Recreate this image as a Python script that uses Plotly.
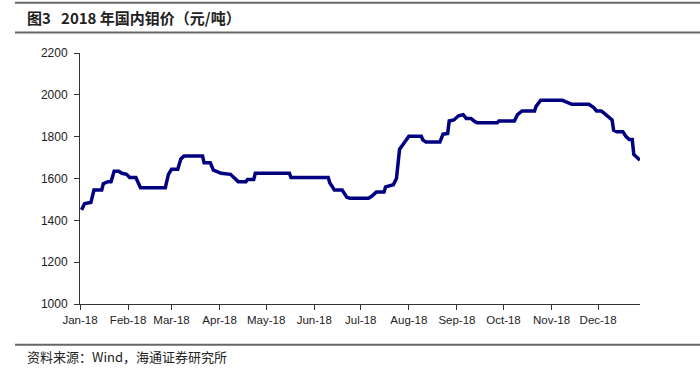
import plotly.graph_objects as go
from datetime import date, timedelta

# ---- data ----
day_of_year = [1, 3, 7, 9, 14, 15, 18, 20, 22, 25, 27, 30, 32, 36, 39, 55, 57, 59, 63, 65,
               67, 79, 80, 84, 86, 91, 97, 102, 107, 108, 112, 113, 135, 136, 160, 161, 164,
               169, 172, 174, 186, 188, 191, 196, 197, 199, 202, 204, 206, 208, 210, 212,
               220, 221, 223, 232, 234, 237, 238, 241, 244, 247, 249, 252, 254, 256, 269,
               270, 280, 282, 285, 293, 294, 297, 311, 314, 317, 328, 331, 333, 336, 338,
               341, 343, 344, 346, 350, 352, 354, 356, 357, 359, 361]
price = [1450, 1480, 1485, 1545, 1545, 1575, 1585, 1585, 1635, 1635, 1625, 1620, 1605, 1605,
         1556, 1556, 1620, 1644, 1644, 1693, 1707, 1707, 1675, 1675, 1640, 1625, 1620, 1585,
         1585, 1595, 1595, 1625, 1625, 1605, 1605, 1580, 1545, 1545, 1510, 1506, 1506, 1515,
         1535, 1535, 1560, 1565, 1570, 1600, 1740, 1760, 1780, 1802, 1802, 1785, 1774, 1774,
         1812, 1815, 1875, 1880, 1900, 1905, 1887, 1887, 1875, 1866, 1866, 1875, 1875, 1905,
         1923, 1923, 1945, 1974, 1974, 1965, 1955, 1955, 1940, 1923, 1923, 1911, 1894, 1880,
         1831, 1823, 1823, 1800, 1787, 1787, 1715, 1700, 1688]
month_ticks = ["2018-%02d-01" % m for m in range(1, 13)]
month_labels = ["Jan-18", "Feb-18", "Mar-18", "Apr-18", "May-18", "Jun-18",
                "Jul-18", "Aug-18", "Sep-18", "Oct-18", "Nov-18", "Dec-18"]
y_ticks = [1000, 1200, 1400, 1600, 1800, 2000, 2200]

title_text = "图3\u00a0\u00a0 2018 年国内钼价（元/吨）"
source_text = "资料来源：Wind，海通证券研究所"

dates = [(date(2018, 1, 1) + timedelta(days=d)).isoformat() for d in day_of_year]

# ---- layout geometry (pixels) ----
W, H = 700, 374
L, R, T, B = 80, 640, 52.5, 304.5


def px_x(px):
    return (px - L) / (R - L)


def px_y(py):
    return (B - py) / (B - T)


fig = go.Figure()
fig.add_trace(go.Scatter(x=dates, y=price, mode="lines",
                         line=dict(color="#000080", width=3.5), hoverinfo="x+y"))

x_font = dict(family="Liberation Sans, Arial, sans-serif", size=11.5, color="#222")
y_font = dict(family="Liberation Sans, Arial, sans-serif", size=12, color="#222")
fig.update_layout(
    width=W, height=H,
    margin=dict(l=L, r=W - R, t=T, b=H - B),
    paper_bgcolor="white", plot_bgcolor="white",
    showlegend=False,
    xaxis=dict(type="date", range=["2018-01-01", dates[-1]],
               tickvals=month_ticks, ticktext=month_labels,
               showgrid=False, zeroline=False,
               showline=True, linecolor="#333", linewidth=1,
               ticks="outside", ticklen=5, tickcolor="#333",
               tickfont=x_font, tickangle=0, automargin=False),
    yaxis=dict(range=[1000, 2200], tickvals=y_ticks,
               showgrid=False, zeroline=False,
               showline=True, linecolor="#333", linewidth=1,
               ticks="outside", ticklen=5, tickcolor="#333",
               tickfont=y_font, ticklabelstandoff=4, automargin=False),
)

line_col = "#666"
for py in (2, 32, 345.5):
    fig.add_shape(type="line", xref="paper", yref="paper",
                  x0=px_x(15), x1=px_x(700), y0=px_y(py), y1=px_y(py),
                  line=dict(color=line_col, width=2))

fig.add_annotation(text="<b>" + title_text + "</b>", xref="paper", yref="paper",
                   x=px_x(25), y=px_y(17), xanchor="left", yanchor="middle",
                   showarrow=False,
                   font=dict(family="Noto Sans CJK SC, sans-serif", size=15, color="#222"))
fig.add_annotation(text=source_text, xref="paper", yref="paper",
                   x=px_x(25), y=px_y(357), xanchor="left", yanchor="middle",
                   showarrow=False,
                   font=dict(family="Noto Sans CJK SC, sans-serif", size=13, color="#222"))

fig.write_html("out.html", config={"displayModeBar": False},
               post_script="document.body.style.margin='0';")
